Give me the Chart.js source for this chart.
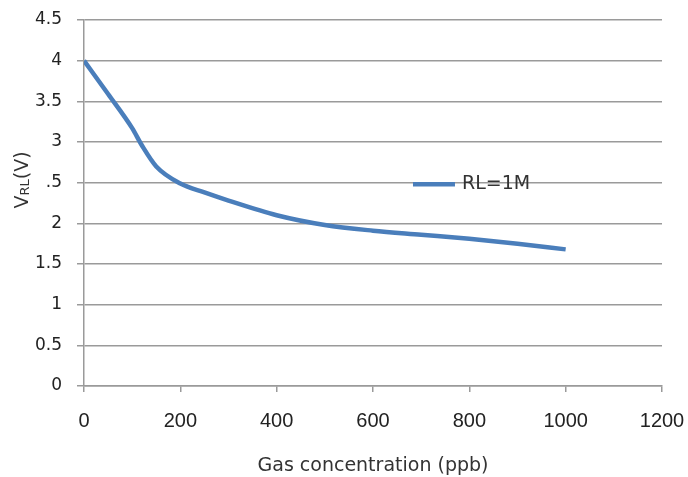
<!DOCTYPE html>
<html>
<head>
<meta charset="utf-8">
<script src="https://cdn.jsdelivr.net/npm/chart.js@4"></script>
<style>
  body { margin: 0; background: #fff; }
  #wrap { position: relative; width: 688px; height: 477px; }
</style>
</head>
<body>
<div id="wrap"><canvas id="chart" width="688" height="477"></canvas></div>
<script>
// data
var gasPpb = [0, 50, 100, 120, 150, 200, 250, 300, 400, 500, 600, 700, 800, 900, 1000];
var vrl = [4.0, 3.59, 3.17, 2.96, 2.70, 2.49, 2.38, 2.28, 2.10, 1.98, 1.91, 1.86, 1.81, 1.75, 1.68];
var seriesName = 'RL=1M';
var xTickLabels = ['0', '200', '400', '600', '800', '1000', '1200'];
var yTickLabels = ['0', '0.5', '1', '1.5', '2', '.5', '3', '3.5', '4', '4.5'];
var xTitle = 'Gas concentration (ppb)';

var lineColor = '#4a7ebb';
var gridColor = '#9a9a9a';

var points = gasPpb.map(function (x, i) { return { x: x, y: vrl[i] }; });

// y axis title with subscript + legend placed inside the plot
var extras = {
  id: 'extras',
  afterDraw: function (chart) {
    var ctx = chart.ctx;
    var xs = chart.scales.x, ys = chart.scales.y;
    ctx.save();
    // y title: V_RL(V)
    ctx.translate(28, 180);
    ctx.rotate(-Math.PI / 2);
    ctx.fillStyle = '#333';
    ctx.textBaseline = 'alphabetic';
    var big = '19px "DejaVu Sans"', small = '13px "DejaVu Sans"';
    ctx.font = big;
    var w1 = ctx.measureText('V').width;
    var w3 = ctx.measureText('(V)').width;
    ctx.font = small;
    var w2 = ctx.measureText('RL').width;
    var x0 = -(w1 + w2 + w3) / 2;
    ctx.font = big;
    ctx.fillText('V', x0, 0);
    ctx.font = small;
    ctx.fillText('RL', x0 + w1, 1);
    ctx.font = big;
    ctx.fillText('(V)', x0 + w1 + w2, 0);
    ctx.restore();

    // legend
    ctx.save();
    var lx = xs.getPixelForValue(683);
    var ly = ys.getPixelForValue(2.48);
    ctx.strokeStyle = lineColor;
    ctx.lineWidth = 4.5;
    ctx.beginPath();
    ctx.moveTo(lx, ly);
    ctx.lineTo(lx + 42, ly);
    ctx.stroke();
    ctx.fillStyle = '#333';
    ctx.font = '19px "DejaVu Sans"';
    ctx.textBaseline = 'middle';
    ctx.fillText(seriesName, lx + 49, ly);
    ctx.restore();
  }
};

new Chart(document.getElementById('chart'), {
  type: 'line',
  data: {
    datasets: [{
      label: seriesName,
      data: points,
      borderColor: lineColor,
      borderWidth: 4.5,
      pointRadius: 0,
      fill: false,
      cubicInterpolationMode: 'monotone'
    }]
  },
  options: {
    responsive: false,
    animation: false,
    layout: { padding: { top: 20, right: 26, left: 0, bottom: 0 } },
    plugins: {
      legend: { display: false },
      tooltip: { enabled: false }
    },
    scales: {
      x: {
        type: 'linear',
        min: 0,
        max: 1200,
        ticks: {
          stepSize: 200,
          color: '#222',
          font: { family: 'Liberation Sans', size: 20 },
          padding: 17,
          maxRotation: 0,
          callback: function (v, i) { return xTickLabels[i]; }
        },
        grid: { drawOnChartArea: false, color: gridColor, lineWidth: 1.5, tickLength: 6 },
        border: { color: gridColor, width: 1.5 },
        title: {
          display: true,
          text: xTitle,
          color: '#333',
          font: { family: 'DejaVu Sans', size: 19 },
          padding: { top: 8, bottom: 0 }
        },
        afterFit: function (scale) {
          scale.height = 91;
          scale.paddingLeft = 0;
          scale.paddingRight = 0;
        }
      },
      y: {
        min: 0,
        max: 4.5,
        ticks: {
          stepSize: 0.5,
          color: '#222',
          font: { family: 'DejaVu Sans', size: 17 },
          padding: 15,
          callback: function (v, i) { return yTickLabels[i]; }
        },
        grid: { color: gridColor, lineWidth: 1.5, tickLength: 7 },
        border: { color: gridColor, width: 1.5 },
        afterFit: function (scale) {
          scale.width = 84;
          scale.paddingTop = 0;
          scale.paddingBottom = 0;
        }
      }
    }
  },
  plugins: [extras]
});
</script>
</body>
</html>
